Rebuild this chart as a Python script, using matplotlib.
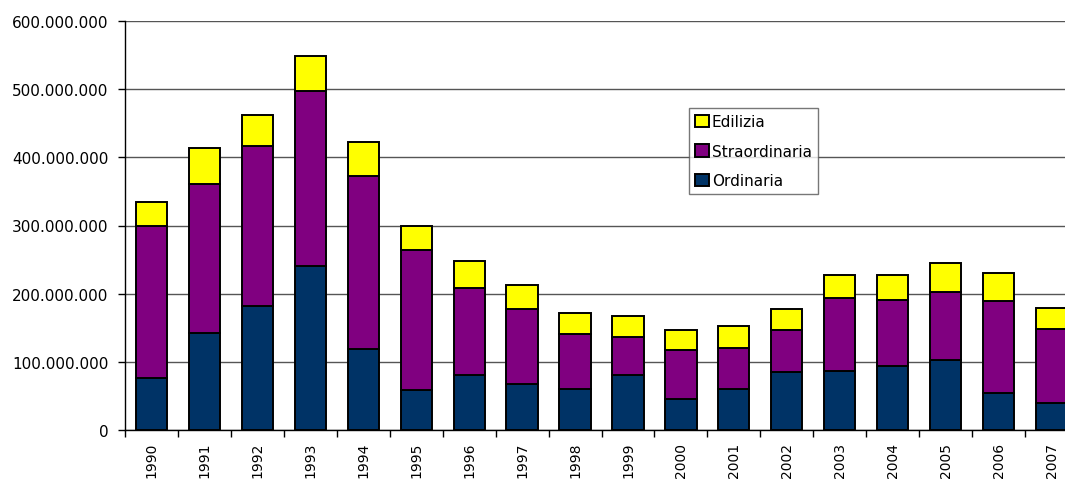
import numpy as np
import matplotlib.pyplot as plt
from matplotlib.ticker import FuncFormatter, FixedLocator

anni = [str(a) for a in range(1990, 2008)]
# valori (milioni)
ordinaria = [76, 143, 182, 240, 119, 58, 81, 68, 60, 81, 45, 60, 85, 87, 94, 102, 55, 40]
straordinaria = [223, 218, 234, 257, 254, 206, 128, 109, 81, 55, 73, 61, 62, 107, 97, 101, 134, 108]
edilizia = [35, 52, 46, 52, 49, 35, 39, 36, 31, 31, 29, 31, 30, 33, 36, 42, 41, 31]

ordinaria = np.array(ordinaria) * 1e6
straordinaria = np.array(straordinaria) * 1e6
edilizia = np.array(edilizia) * 1e6

fig = plt.figure(figsize=(10.65, 4.81), dpi=100)
# the plot area runs past the right edge like in the original
ax = fig.add_axes([125 / 1065, 50 / 481, 953 / 1065, 409 / 481])

x = np.arange(len(anni))
w = 0.59
lw = 1.4
ax.bar(x, ordinaria, w, color='#003366', edgecolor='black', linewidth=lw, label='Ordinaria', zorder=3)
ax.bar(x, straordinaria, w, bottom=ordinaria, color='#800080', edgecolor='black', linewidth=lw,
       label='Straordinaria', zorder=3)
ax.bar(x, edilizia, w, bottom=ordinaria + straordinaria, color='#FFFF00', edgecolor='black', linewidth=lw,
       label='Edilizia', zorder=3)

ax.set_xlim(-0.5, len(anni) - 0.5)
ax.set_ylim(0, 600e6)
ax.set_yticks(np.arange(0, 600e6 + 1, 100e6))
ax.yaxis.set_major_formatter(FuncFormatter(lambda v, p: '{:,.0f}'.format(v).replace(',', '.')))
ax.grid(axis='y', color='#555555', linewidth=1, zorder=0)

ax.set_xticks(x)
ax.set_xticklabels(anni, rotation=90)
ax.tick_params(axis='x', which='major', length=0, pad=8.5, labelsize=10)
ax.xaxis.set_minor_locator(FixedLocator(np.arange(-0.5, len(anni), 1)))
ax.tick_params(axis='x', which='minor', length=5, width=1, color='black')
ax.tick_params(axis='y', length=5, width=1, color='black', pad=7, labelsize=11)

for s in ['top', 'right']:
    ax.spines[s].set_visible(False)
for s in ['left', 'bottom']:
    ax.spines[s].set_color('black')
    ax.spines[s].set_linewidth(1)

h, l = ax.get_legend_handles_labels()
leg = ax.legend(h[::-1], l[::-1], loc='upper left', bbox_to_anchor=((689 - 125) / 953, (431 - 109) / 409),
                fontsize=11, frameon=True, fancybox=False, edgecolor='#555555',
                handlelength=0.9, handleheight=0.9, handletextpad=0.2, borderpad=0.4,
                borderaxespad=0, labelspacing=0.95)
leg.get_frame().set_linewidth(1)

fig.savefig('out.png', dpi=100)
